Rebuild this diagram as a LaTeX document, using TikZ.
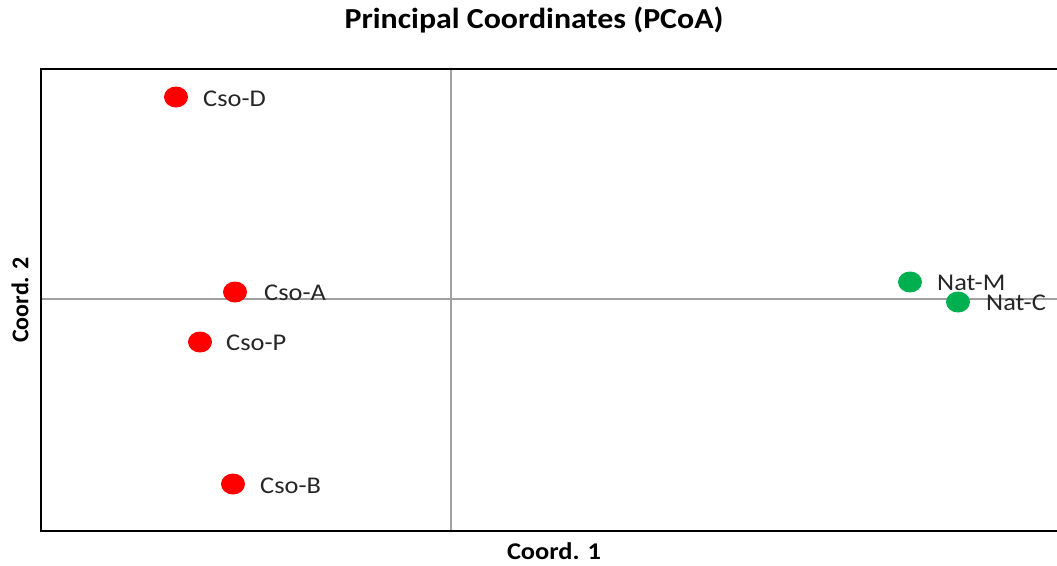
\documentclass[tikz,border=0pt]{standalone}
\usepackage{graphicx}
\usepackage{fontspec}
\setmainfont{Carlito}
\definecolor{dotred}{RGB}{255,0,0}
\definecolor{dotgreen}{RGB}{0,176,80}
\definecolor{axisgray}{RGB}{160,160,160}
\newcommand{\wide}[1]{\scalebox{1.1}[1]{#1}}
\begin{document}
\begin{tikzpicture}[x=1pt,y=-1pt,
  lab/.style={anchor=west,inner sep=0pt,font=\fontsize{24}{27}\selectfont,text=black!85},
  ttl/.style={font=\bfseries\fontsize{29}{32}\selectfont},
  axlab/.style={font=\bfseries\fontsize{24}{27}\selectfont}]
\useasboundingbox (0,0) rectangle (1057,565);
% axes lines
\coordinate (vt) at (451,69);
\coordinate (vb) at (451,531);
\coordinate (hl) at (40,299);
\coordinate (hr) at (1057,299);
\draw[axisgray,line width=1.3pt] (vt) -- (vb);
\draw[axisgray,line width=1.3pt] (hl) -- (hr);
% frame
\coordinate (tr) at (1057,69);
\coordinate (tl) at (41,69);
\coordinate (bl) at (41,531);
\coordinate (br) at (1057,531);
\draw[black,line width=2.2pt] (tr) -- (tl) -- (bl) -- (br);
% points
\fill[dotred] (176,97) ellipse (12pt and 10.5pt);
\fill[dotred] (235,292) ellipse (12pt and 10.5pt);
\fill[dotred] (200,342) ellipse (12pt and 10.5pt);
\fill[dotred] (233,484) ellipse (12pt and 10.5pt);
\fill[dotgreen] (910,282) ellipse (12pt and 10.5pt);
\fill[dotgreen] (958,302) ellipse (12pt and 10.5pt);
% labels
\node[lab] (lD) at (203,99) {\wide{Cso-D}};
\node[lab] (lA) at (264,293) {\wide{Cso-A}};
\node[lab] (lP) at (226,343) {\wide{Cso-P}};
\node[lab] (lB) at (260,486) {\wide{Cso-B}};
\node[lab] (lM) at (937,283) {\wide{Nat-M}};
\node[lab] (lC) at (986,303) {\wide{Nat-C}};
% titles
\node[ttl] (title) at (534,20) {\wide{Principal Coordinates (PCoA)}};
\node[axlab] (x1) at (554,551) {\wide{Coord. 1}};
\node[axlab,rotate=90] (y2) at (20,300) {Coord. 2};
\end{tikzpicture}
\end{document}
